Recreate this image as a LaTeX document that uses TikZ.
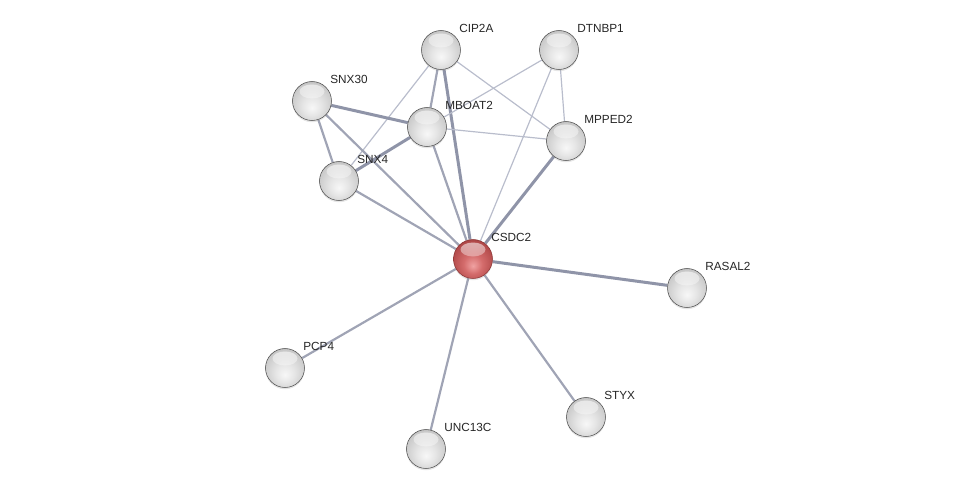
\documentclass[tikz,border=0pt]{standalone}
\usepackage{fontspec}
\setmainfont{Liberation Sans}
\usetikzlibrary{shadows, backgrounds, fadings}
\definecolor{edgegrey}{HTML}{8F94A8}
\definecolor{edgelight}{HTML}{B9BDCC}
\definecolor{redlight}{HTML}{F0A2A2}
\definecolor{redmid}{HTML}{D46C6C}
\definecolor{reddark}{HTML}{B24A4A}
\definecolor{redrim}{HTML}{8A3434}

\pgfdeclareradialshading{protball}{\pgfpoint{0bp}{-9bp}}{color(0bp)=(gray!6); color(12bp)=(gray!20); color(27bp)=(gray!42); color(34bp)=(gray!70); color(50bp)=(gray!70)}
\pgfdeclareradialshading{queryball}{\pgfpoint{0bp}{-9bp}}{color(0bp)=(redlight); color(12bp)=(redmid); color(27bp)=(reddark); color(34bp)=(redrim); color(50bp)=(redrim)}

\tikzset{
  gloss/.style={path picture={
    \fill[white, fill opacity=0.6, path fading=south]
      ([yshift=0.19cm]path picture bounding box.center) ellipse [x radius=0.25cm, y radius=0.14cm];}},
  prot/.style={circle, minimum size=0.78cm, inner sep=0pt, shading=protball,
    draw=gray!60!black, line width=0.3pt, gloss,
    drop shadow={opacity=0.2, shadow xshift=0pt, shadow yshift=-1pt},
    label distance=0.09cm},
  query/.style={prot, shading=queryball, draw=redrim},
  tag/.style={font=\fontsize{6.7}{8}\selectfont, inner sep=0pt, text=black!85,
    xshift=0.08cm, yshift=0.06cm},
  tk/.style={edgegrey, line width=0.06cm},
  md/.style={edgegrey!85!white, line width=0.044cm},
  tn/.style={edgelight, line width=0.024cm}
}

\begin{document}
\begin{tikzpicture}[x=0.02cm, y=-0.02cm]
  \useasboundingbox (0,0) rectangle (976,494);

  %proteins
  \node[query] (csdc2) at (473,259) [label={[tag]45:CSDC2}] {};
  \node[prot] (cip2a) at (441,50) [label={[tag]45:CIP2A}] {};
  \node[prot] (dtnbp1) at (559,50) [label={[tag]45:DTNBP1}] {};
  \node[prot] (snx30) at (312,101) [label={[tag]45:SNX30}] {};
  \node[prot] (mboat2) at (427,127) [label={[tag]45:MBOAT2}] {};
  \node[prot] (mpped2) at (566,141) [label={[tag]45:MPPED2}] {};
  \node[prot] (snx4) at (339,181) [label={[tag]45:SNX4}] {};
  \node[prot] (rasal2) at (687,288) [label={[tag]45:RASAL2}] {};
  \node[prot] (pcp4) at (285,368) [label={[tag]45:PCP4}] {};
  \node[prot] (unc13c) at (426,449) [label={[tag]45:UNC13C}] {};
  \node[prot] (styx) at (586,417) [label={[tag]45:STYX}] {};

  %edges
  \begin{scope}[on background layer]
    \draw[md] (cip2a) -- (mboat2);
    \draw[tk] (cip2a) -- (csdc2);
    \draw[tn] (cip2a) -- (snx4);
    \draw[tn] (cip2a) -- (mpped2);
    \draw[tn] (dtnbp1) -- (mboat2);
    \draw[tn] (dtnbp1) -- (csdc2);
    \draw[tn] (dtnbp1) -- (mpped2);
    \draw[tk] (snx30) -- (mboat2);
    \draw[md] (snx30) -- (snx4);
    \draw[md] (snx30) -- (csdc2);
    \draw[tk] (mboat2) -- (snx4);
    \draw[tn] (mboat2) -- (mpped2);
    \draw[md] (mboat2) -- (csdc2);
    \draw[tk] (mpped2) -- (csdc2);
    \draw[md] (snx4) -- (csdc2);
    \draw[tk] (csdc2) -- (rasal2);
    \draw[md] (csdc2) -- (pcp4);
    \draw[md] (csdc2) -- (unc13c);
    \draw[md] (csdc2) -- (styx);
  \end{scope}
\end{tikzpicture}
\end{document}
